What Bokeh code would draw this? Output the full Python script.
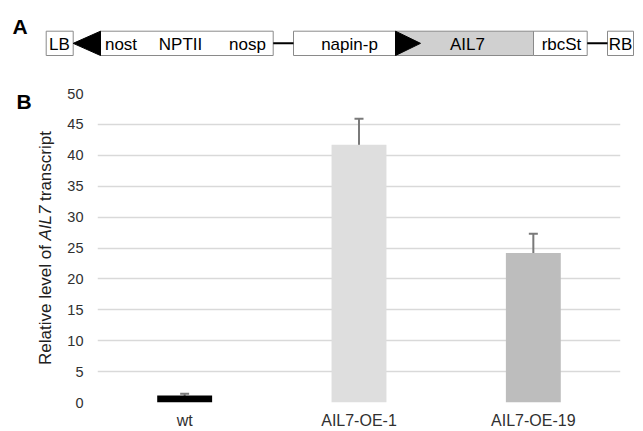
import math
from bokeh.plotting import figure
from bokeh.models import (ColumnDataSource, FactorRange, Range1d, Whisker, TeeHead)
from bokeh.layouts import row
from bokeh.core.properties import value
from bokeh.embed import file_html
from bokeh.resources import INLINE

FONT = "Liberation Sans"

# ---------------- Panel A: construct diagram ----------------
seg_labels = ["LB", "", "napin-p", "AIL7", "rbcSt", "RB"]
seg_left = [45.7, 100, 293, 395, 533, 607]
seg_right = [72.7, 272.7, 395, 533, 586.7, 633]
seg_fill = ["white", "white", "white", "#d0d0d0", "white", "white"]
seg_text_x = [59, 0, 349, 467, 561, 620]

nptii_labels = ["nost", "NPTII", "nosp"]
nptii_text_x = [120.5, 180, 247]

link_x0 = [272.7, 586.7]
link_x1 = [293, 607]

box_top, box_bottom = 30.7, 55.0
mid_y = (box_top + box_bottom) / 2

top = figure(width=643, height=70, x_range=Range1d(0, 643), y_range=Range1d(70, 0),
             output_backend="svg", toolbar_location=None, min_border=0)
top.axis.visible = False
top.grid.visible = False
top.outline_line_color = None

top.quad(left=seg_left, right=seg_right, top=box_top, bottom=box_bottom,
         fill_color=seg_fill, line_color="#8a8a8a", line_width=1)
top.segment(x0=link_x0, x1=link_x1, y0=mid_y, y1=mid_y, line_color="black", line_width=2)
# arrows (NPTII pointing left, AIL7 pointing right)
top.patches(xs=[[seg_right[0], seg_left[1], seg_left[1]], [seg_left[3], seg_left[3], seg_left[3] + 25]],
            ys=[[mid_y, box_top, box_bottom], [box_top, box_bottom, mid_y]],
            fill_color="black", line_color="black")
lab_src = ColumnDataSource(dict(x=[x for x, t in zip(seg_text_x, seg_labels) if t] + nptii_text_x,
                                t=[t for t in seg_labels if t] + nptii_labels))
top.text(x="x", y=mid_y + 1, text="t", source=lab_src, text_align="center",
         text_baseline="middle", text_font=value(FONT), text_font_size="17px",
         text_color="black")
top.text(x=[12], y=[26], text=["A"], text_align="left", text_baseline="middle",
         text_font=value(FONT), text_font_size="21px", text_font_style="bold",
         text_color="black")

# ---------------- Panel B: bar chart ----------------
lines = ["wt", "AIL7-OE-1", "AIL7-OE-19"]
transcript = [1.15, 41.7, 24.2]
err_low = [0.9, 37.5, 21.2]
err_high = [1.4, 45.9, 27.3]
bar_colors = ["#000000", "#dedede", "#bdbdbd"]
y_ticks = [0, 5, 10, 15, 20, 25, 30, 35, 40, 45, 50]

src = ColumnDataSource(dict(x=lines, top=transcript, lo=err_low, hi=err_high, c=bar_colors))

yr = Range1d(0, 50)
p = figure(width=583, height=361, x_range=FactorRange(*lines, range_padding=0),
           y_range=yr, output_backend="svg", toolbar_location=None,
           min_border_left=37, min_border_right=23, min_border_top=23, min_border_bottom=27)
p.outline_line_color = None
p.xgrid.grid_line_color = None
p.ygrid.grid_line_color = "#d9d9d9"
p.ygrid.grid_line_width = 1.5
p.yaxis.ticker = y_ticks
p.axis.axis_line_color = None
p.axis.major_tick_line_color = None
p.axis.minor_tick_line_color = None
p.axis.major_tick_out = 0
p.axis.major_tick_in = 0
p.yaxis.major_label_standoff = 14
p.xaxis.major_label_standoff = 9
p.yaxis.major_label_text_font_size = "14.5px"
p.xaxis.major_label_text_font_size = "16px"
p.axis.major_label_text_font = FONT
p.axis.major_label_text_color = "#303030"

p.vbar(x="x", top="top", width=0.315, source=src, fill_color="c", line_color=None)
p.add_layout(Whisker(base="x", lower="lo", upper="hi", source=src,
                     line_color="#7a7a7a", line_width=2,
                     upper_head=TeeHead(size=9, line_color="#7a7a7a", line_width=2),
                     lower_head=TeeHead(size=9, line_color="#7a7a7a", line_width=2)))

# ---------------- left strip: panel letter and y-axis title ----------------
left = figure(width=60, height=361, x_range=Range1d(0, 60), y_range=yr,
              output_backend="svg", toolbar_location=None,
              min_border_left=0, min_border_right=0, min_border_top=23, min_border_bottom=27)
left.axis.visible = False
left.grid.visible = False
left.outline_line_color = None

title_kw = dict(x=[45], y=[25], angle=math.pi / 2, text_font=value(FONT),
                text_font_size="17px", text_baseline="middle", text_color="#202020")
left.text(text=["Relative level of"], text_align="right", y_offset=-3, **title_kw)
left.text(text=["AIL7"], text_align="center", y_offset=-25, text_font_style="italic", **title_kw)
left.text(text=["transcript"], text_align="left", y_offset=-47, **title_kw)

left.text(x=[16], y=[48.7], text=["B"], text_align="left", text_baseline="middle",
          text_font=value(FONT), text_font_size="21px", text_font_style="bold",
          text_color="black")

open("out.html", "w").write(file_html([top, row(left, p)], INLINE))
